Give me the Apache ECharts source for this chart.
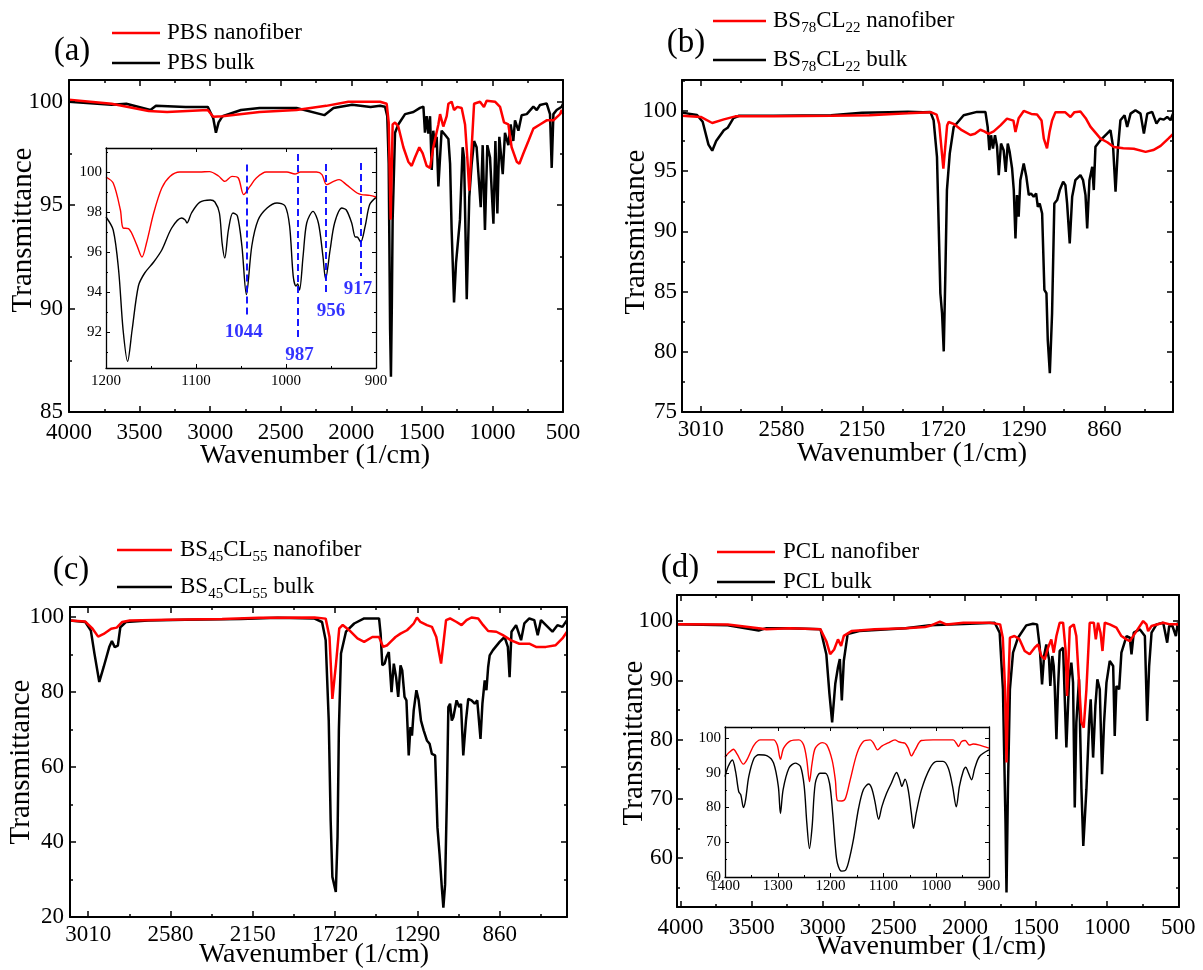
<!DOCTYPE html>
<html><head><meta charset="utf-8">
<script src="https://cdn.jsdelivr.net/npm/echarts@6/dist/echarts.min.js"></script>
<style>html,body{margin:0;padding:0;background:#fff}#c{width:1203px;height:970px}</style>
</head><body><div id="c"></div>
<script>
// ---------------- DATA ----------------
const namesA = ['PBS nanofiber', 'PBS bulk'];
const namesB = ['BS78CL22 nanofiber', 'BS78CL22 bulk'];
const namesC = ['BS45CL55 nanofiber', 'BS45CL55 bulk'];
const namesD = ['PCL nanofiber', 'PCL bulk'];
const panelLetters = ['(a)', '(b)', '(c)', '(d)'];
const xTitle = 'Wavenumber (1/cm)';
const yTitle = 'Transmittance';

// tick labels
const ticksA_x = [4000, 3500, 3000, 2500, 2000, 1500, 1000, 500];
const ticksA_y = [85, 90, 95, 100];
const ticksAI_x = [1200, 1100, 1000, 900];
const ticksAI_y = [92, 94, 96, 98, 100];
const ticksBC_x = [3010, 2580, 2150, 1720, 1290, 860];
const ticksB_y = [75, 80, 85, 90, 95, 100];
const ticksC_y = [20, 40, 60, 80, 100];
const ticksD_x = [4000, 3500, 3000, 2500, 2000, 1500, 1000, 500];
const ticksD_y = [60, 70, 80, 90, 100];
const ticksDI_x = [1400, 1300, 1200, 1100, 1000, 900];
const ticksDI_y = [60, 70, 80, 90, 100];

const peaksA = [1044, 987, 956, 917];

const pbsNanoMain = [[4000,100.1],[3698,99.9],[3436,99.55],[3305,99.5],[3017,99.6],[2978,99.27],[2912,99.3],[2650,99.5],[2388,99.6],[2178,99.8],[2021,100],[1863,100],[1796,100],[1749,99.9],[1735,99.0],[1721,94.3],[1707,98.9],[1690,99.0],[1667,98.8],[1631,97.8],[1596,97.1],[1572,96.9],[1549,97.3],[1518,97.8],[1494,97.5],[1466,96.9],[1442,96.8],[1419,97.8],[1383,98.9],[1371,99.4],[1348,98.8],[1324,99.3],[1312,99.9],[1289,100],[1272,99.6],[1249,99.75],[1218,99.7],[1194,98.9],[1178,97.3],[1164,95.7],[1147,97.8],[1130,99.9],[1088,100],[1060,99.75],[1041,100.05],[982,100],[946,99.75],[918,99.0],[887,98.9],[864,97.8],[828,97.1],[809,97.0],[781,97.5],[745,98.1],[710,98.7],[663,98.9],[616,99.1],[568,99.1],[521,99.4],[509,99.6],[500,99.4]];
const pbsBulkMain = [[4000,100],[3698,99.85],[3594,99.9],[3423,99.6],[3384,99.8],[3174,99.75],[3017,99.75],[2978,99.2],[2959,98.5],[2940,99.0],[2912,99.3],[2781,99.6],[2650,99.7],[2388,99.7],[2191,99.35],[2126,99.7],[1994,99.85],[1863,99.75],[1796,99.8],[1761,99.76],[1745,99.3],[1735,97],[1725,89],[1719,86.7],[1713,90],[1707,94.3],[1690,98.5],[1667,98.9],[1619,99.4],[1560,99.5],[1513,99.7],[1489,99.76],[1478,98.5],[1466,99.3],[1454,98.46],[1442,99.3],[1430,96.7],[1419,98.6],[1407,97.8],[1395,98.3],[1383,95.9],[1371,95.9],[1360,98.6],[1336,98.4],[1312,98.2],[1300,97.0],[1289,93.8],[1272,90.3],[1258,92.2],[1246,93.1],[1230,94.3],[1211,97.8],[1201,97.3],[1182,90.45],[1164,95.4],[1147,97.0],[1130,98.1],[1112,97.8],[1083,94.9],[1069,97.9],[1053,93.8],[1036,97.9],[1017,97.3],[993,94.1],[979,98.1],[965,94.6],[951,98.3],[927,96.5],[911,98.5],[887,97.9],[871,98.9],[852,98.1],[840,99.1],[816,98.6],[793,99.35],[757,99.4],[710,99.76],[686,99.6],[663,99.84],[616,99.92],[592,99.4],[580,96.8],[568,99.4],[545,99.6],[509,99.76],[500,99.9]];
const pbsNanoInset = [[1200,99.75],[1192,99.45],[1184,98.1],[1181,97.2],[1175,97.17],[1166,96.37],[1160,95.75],[1155,96.45],[1147,97.95],[1138,99.2],[1129,99.78],[1118,100],[1096,100],[1085,100.02],[1075,99.8],[1068,99.53],[1060,99.78],[1053,99.7],[1047,98.87],[1040,99.28],[1033,99.7],[1022,100],[999,100],[990,99.9],[984,100],[966,100],[960,99.87],[955,99.37],[947,99.53],[941,99.62],[933,99.37],[921,98.95],[916,98.87],[907,98.83],[900,98.75]];
const pbsBulkInset = [[1200,97.75],[1192,97.1],[1186,95.1],[1181,92.1],[1176,90.53],[1171,92.1],[1164,94.3],[1157,94.95],[1147,95.5],[1138,96.1],[1127,97.2],[1116,97.7],[1112,97.6],[1110,97.45],[1105,97.95],[1096,98.48],[1084,98.6],[1079,98.5],[1074,97.95],[1071,96.45],[1068,95.7],[1064,97.1],[1059,97.95],[1054,97.8],[1049,96.3],[1044,93.87],[1038,96.3],[1031,97.6],[1021,98.2],[1010,98.45],[1001,98.3],[996,97.3],[992,94.8],[989,94.3],[987,94.4],[985,94.1],[981,95.8],[977,97.45],[970,98.03],[964,97.45],[959,95.8],[956,94.65],[951,96.1],[946,97.45],[938,98.2],[933,98.1],[927,97.45],[923,96.75],[921,96.75],[917,96.5],[912,97.3],[907,98.37],[900,98.73]];

const bs78NanoMain = [[3110,99.6],[3010,99.5],[2949,99.0],[2887,99.3],[2826,99.55],[2622,99.55],[2316,99.6],[2112,99.65],[1907,99.8],[1785,99.9],[1754,99.7],[1740,98.9],[1730,97.2],[1718,95.2],[1708,97.0],[1698,98.8],[1690,99.08],[1660,98.9],[1620,98.4],[1574,98.0],[1550,98.1],[1521,98.44],[1500,98.3],[1477,98.1],[1450,98.3],[1414,98.8],[1379,99.36],[1345,99.2],[1334,98.25],[1317,99.4],[1290,100],[1250,99.75],[1219,99.7],[1195,99.2],[1183,97.7],[1166,96.9],[1152,98.3],[1139,99.2],[1121,99.9],[1070,99.9],[1041,99.5],[1020,99.9],[988,99.95],[960,99.4],[935,98.7],[881,97.7],[845,97.4],[810,97.0],[760,96.9],[704,96.86],[641,96.6],[600,96.75],[561,97.1],[520,97.7],[494,98.1]];
const bs78BulkMain = [[3110,99.86],[3030,99.67],[3000,99.1],[2969,97.2],[2949,96.7],[2928,97.5],[2887,98.4],[2867,98.6],[2857,98.5],[2836,99.4],[2806,99.6],[2622,99.6],[2316,99.65],[2152,99.85],[2010,99.9],[1907,99.94],[1826,99.9],[1787,99.92],[1770,99.23],[1752,96.19],[1734,84.86],[1725,83.2],[1716,80.03],[1708,85.97],[1699,93.43],[1684,96.46],[1663,98.67],[1610,99.64],[1539,99.92],[1494,99.92],[1482,98.67],[1473,96.74],[1464,97.98],[1454,96.88],[1443,97.98],[1432,97.02],[1423,94.67],[1411,97.29],[1397,96.74],[1386,94.94],[1375,97.29],[1365,96.6],[1352,95.22],[1343,93.43],[1334,89.42],[1326,93.01],[1317,91.22],[1308,94.25],[1290,95.64],[1276,94.53],[1263,93.01],[1251,93.15],[1237,92.87],[1224,93.15],[1215,92.04],[1205,92.32],[1192,91.49],[1180,85.14],[1169,84.86],[1162,80.99],[1151,78.23],[1139,83.2],[1127,92.32],[1112,92.6],[1098,93.43],[1080,94.12],[1068,93.84],[1059,92.32],[1045,89.0],[1032,92.87],[1015,94.25],[988,94.67],[974,94.25],[961,93.01],[952,90.25],[940,94.25],[925,95.36],[917,93.43],[908,97.02],[881,97.57],[846,98.12],[828,98.4],[814,97.02],[801,93.29],[789,96.74],[775,99.23],[753,99.64],[739,98.67],[721,99.78],[695,100.06],[668,99.78],[650,98.12],[632,99.78],[606,99.92],[583,98.95],[565,99.36],[544,99.28],[526,99.5],[508,99.23],[495,99.78]];

const bs45NanoMain = [[3105,99.1],[3025,98.8],[2987,96.9],[2958,94.8],[2929,95.5],[2890,96.9],[2861,97.2],[2832,98.7],[2793,99.1],[2600,99.3],[2310,99.5],[2117,99.8],[1827,99.9],[1769,99.6],[1749,94.7],[1734,78.2],[1715,87.6],[1698,97.0],[1680,97.9],[1646,96.5],[1603,94.3],[1568,93.4],[1525,94.7],[1490,94.7],[1469,92.06],[1447,92.5],[1430,93.4],[1404,94.7],[1378,95.6],[1344,96.5],[1326,97.4],[1309,98.3],[1292,99.9],[1274,98.7],[1240,97.86],[1214,97.4],[1191,94.7],[1179,91.2],[1166,87.6],[1154,92.9],[1140,99.2],[1119,99.64],[1085,98.7],[1059,97.86],[1033,99.2],[1007,99.9],[972,99.64],[946,97.86],[920,96.3],[877,96.1],[843,95.2],[800,93.8],[757,92.9],[705,92.9],[670,92.06],[618,92.06],[567,92.5],[532,94.3],[508,96.1]];
const bs45BulkMain = [[3105,99.1],[3025,98.7],[2996,96.4],[2977,90.2],[2952,82.7],[2929,86.7],[2900,92.0],[2886,93.6],[2871,92.0],[2855,92.4],[2842,97.3],[2813,98.7],[2697,99.1],[2503,99.3],[2213,99.5],[2020,99.8],[1827,99.6],[1788,98.7],[1769,93.8],[1753,72.4],[1743,45.8],[1734,30.7],[1724,31.1],[1716,26.7],[1707,41.3],[1700,70],[1689,90.3],[1663,96.1],[1620,98.3],[1568,99.64],[1490,99.64],[1482,95.6],[1473,87.15],[1461,87.6],[1451,89.4],[1439,90.7],[1425,80.0],[1413,87.6],[1401,84.0],[1390,78.7],[1378,87.15],[1369,85.8],[1357,78.7],[1347,77.8],[1335,63.1],[1326,70.7],[1318,68.4],[1309,75.1],[1295,80.5],[1283,77.8],[1271,72.4],[1257,69.8],[1240,67.1],[1226,66.2],[1214,63.5],[1197,63.1],[1185,43.9],[1174,36.8],[1162,27.8],[1154,22.5],[1145,28.7],[1136,51.0],[1128,76.0],[1119,76.9],[1110,72.4],[1102,73.3],[1085,77.8],[1071,76.0],[1062,76.9],[1050,63.1],[1036,72.4],[1024,78.2],[1007,77.8],[990,76.9],[977,77.8],[960,67.5],[950,76.9],[938,83.1],[929,80.5],[920,86.7],[912,89.8],[895,91.2],[860,93.4],[834,94.7],[817,92.06],[808,84.0],[798,96.1],[774,97.86],[748,93.84],[731,98.3],[705,99.64],[679,99.2],[661,95.2],[644,99.2],[618,97.86],[584,96.1],[558,97.86],[532,97.4],[508,99.2]];

const pclNanoMain = [[4025,99.44],[3668,99.4],[3451,98.8],[3396,98.6],[3233,98.8],[3016,98.6],[2975,96.6],[2948,94.4],[2920,95.2],[2893,96.9],[2871,95.8],[2852,97.5],[2798,98.3],[2635,98.6],[2417,98.8],[2281,99.0],[2246,99.2],[2176,99.9],[2129,99.4],[2011,99.72],[1823,99.72],[1753,99.44],[1734,97.19],[1718,88.47],[1708,76.1],[1696,88.47],[1684,97.19],[1652,97.47],[1616,96.9],[1580,94.94],[1545,94.38],[1510,95.5],[1486,96.06],[1463,94.1],[1439,93.53],[1416,95.5],[1393,96.9],[1376,94.66],[1357,97.47],[1334,99.72],[1310,99.72],[1292,94.94],[1282,87.35],[1263,98.9],[1235,99.44],[1217,97.47],[1198,89.6],[1181,82.85],[1165,82.0],[1146,88.47],[1123,99.72],[1094,99.72],[1080,96.9],[1064,99.72],[1047,98.03],[1033,94.94],[1017,99.72],[982,99.44],[935,98.9],[900,97.47],[864,96.9],[841,96.6],[794,98.3],[747,100.0],[724,99.44],[712,98.3],[688,99.16],[606,99.72],[559,99.44],[503,99.44],[495,99.3]];
const pclBulkMain = [[4025,99.44],[3668,99.3],[3451,98.4],[3396,98.8],[3233,98.8],[3016,98.6],[2975,94.4],[2953,87.7],[2934,82.9],[2912,89.4],[2893,92.2],[2880,93.6],[2866,86.6],[2852,93.3],[2825,97.8],[2744,98.3],[2417,98.8],[2246,99.3],[2011,99.5],[1791,99.72],[1756,98.03],[1733,88.47],[1715,65.97],[1708,54.16],[1698,71.6],[1684,88.47],[1662,94.66],[1627,97.19],[1569,99.27],[1522,99.55],[1493,99.44],[1475,95.78],[1458,89.31],[1444,94.1],[1428,96.06],[1409,93.53],[1400,89.03],[1386,94.1],[1376,92.4],[1369,89.03],[1357,80.03],[1346,88.47],[1334,94.94],[1310,95.5],[1287,78.63],[1268,90.16],[1252,92.97],[1240,89.6],[1228,68.5],[1217,82.85],[1198,90.16],[1181,71.6],[1168,62.03],[1146,71.6],[1127,82.85],[1116,86.78],[1099,76.94],[1083,85.66],[1069,90.16],[1052,88.47],[1036,74.13],[1022,82.85],[1005,89.6],[982,93.25],[958,92.4],[947,80.6],[935,89.03],[916,88.47],[900,94.66],[864,97.47],[841,97.19],[829,94.38],[813,98.03],[771,98.6],[735,97.47],[719,83.13],[705,92.4],[688,98.03],[653,99.44],[606,99.72],[578,96.34],[564,99.16],[541,99.16],[517,97.47],[503,99.72],[495,99.5]];
const pclNanoInset = [[1400,94.5],[1392,95.9],[1384,96.8],[1377,95.4],[1365,92.5],[1358,93.9],[1345,98.0],[1333,99.5],[1308,99.5],[1301,98.0],[1295,93.9],[1289,97.1],[1276,99.2],[1260,99.5],[1251,98.0],[1245,93.6],[1240,87.5],[1235,92.8],[1229,97.1],[1216,98.7],[1207,98.0],[1197,93.6],[1191,87.9],[1187,82.0],[1179,81.9],[1172,82.6],[1163,87.9],[1150,95.6],[1138,99.0],[1125,99.5],[1119,98.6],[1111,96.6],[1103,97.7],[1091,98.6],[1078,99.5],[1072,99.0],[1065,98.7],[1059,98.5],[1053,97.1],[1047,94.9],[1040,96.6],[1028,99.3],[1006,99.5],[968,99.5],[961,98.3],[958,97.6],[952,99.0],[945,99.3],[937,98.0],[930,98.3],[918,98.0],[900,97.1]];
const pclBulkInset = [[1400,88.9],[1394,91.8],[1386,93.7],[1380,90.4],[1374,84.6],[1370,83.6],[1365,80.0],[1361,82.2],[1355,88.9],[1345,94.2],[1336,95.2],[1320,94.9],[1308,92.8],[1299,86.1],[1295,78.3],[1290,85.1],[1279,91.3],[1267,92.8],[1257,91.8],[1250,86.1],[1245,75.5],[1240,68.2],[1235,74.5],[1229,87.0],[1220,89.9],[1210,89.9],[1202,87.0],[1196,78.3],[1191,68.7],[1187,63.9],[1179,61.7],[1172,61.9],[1166,64.3],[1157,70.6],[1147,79.8],[1138,85.1],[1128,86.8],[1122,85.5],[1116,81.7],[1109,76.6],[1103,80.2],[1094,84.1],[1085,87.0],[1075,90.1],[1069,88.0],[1065,86.1],[1059,88.2],[1053,85.1],[1047,78.3],[1043,74.0],[1038,78.3],[1028,85.1],[1012,91.3],[999,93.3],[987,93.3],[977,91.3],[969,86.1],[962,80.2],[956,86.1],[949,90.4],[944,91.6],[940,90.4],[933,88.0],[927,91.3],[918,94.7],[900,96.6]];

// ---------------- LAYOUT / STYLE ----------------
const FONT = '"Liberation Serif","Times New Roman",serif';
const RED = '#ff0000', BLACK = '#000000', BLUE = '#0000ff';

// ix/iy: major tick spacing, mix/miy: minor tick spacing (drawn by tick-overlay axes)
const panels = [
  {box:[69,80,563,412], x:[4000,500], y:[85,101.05], tx:ticksA_x, ty:ticksA_y, ix:500, mix:250, iy:5, miy:2.5, fs:23, xm:9, ym:6, bw:2, tl:6, ml:3, tw:1.5},
  {box:[106,148,376,368], x:[1200,900], y:[90.2,101.2], tx:ticksAI_x, ty:ticksAI_y, ix:100, mix:50, iy:2, miy:1, fs:15, xm:6, ym:4, bw:1.3, tl:4, ml:2, tw:1},
  {box:[682,80,1173,412], x:[3110,495], y:[75,102.57], tx:ticksBC_x, ty:ticksB_y, ix:430, mix:215, iy:5, miy:2.5, fs:23, xm:6, ym:5, bw:2, tl:6, ml:3, tw:1.5},
  {box:[70,607,567,917], x:[3105,508], y:[20,102.7], tx:ticksBC_x, ty:ticksC_y, ix:430, mix:215, iy:20, miy:10, fs:23, xm:6, ym:6, bw:2, tl:6, ml:3, tw:1.5},
  {box:[677,595,1179,907], x:[4025,495], y:[51.7,104.4], tx:ticksD_x, ty:ticksD_y, ix:500, mix:250, iy:10, miy:5, fs:23, xm:9, ym:4, bw:2, tl:6, ml:3, tw:1.5},
  {box:[725,727,989,877], x:[1400,900], y:[60,103.2], tx:ticksDI_x, ty:ticksDI_y, ix:100, mix:50, iy:10, miy:5, fs:15, xm:2, ym:4, bw:1.3, tl:4, ml:2, tw:1}
];

const grids = [], xAxes = [], yAxes = [], series = [];
const axisIdx = [];

panels.forEach((p) => {
  const [L, T, R, B] = p.box, W = R - L, H = B - T;
  const gi = grids.length;
  grids.push({left:L, top:T, width:W, height:H, show:false, containLabel:false});
  const mk = (isX, pos, labelVals) => ({
    type:'value', gridIndex:gi, position:pos, z:6,
    min: isX ? p.x[1] : p.y[0], max: isX ? p.x[0] : p.y[1], inverse: isX,
    axisLine:{show:true, onZero:false, lineStyle:{color:'#000', width:p.bw}}, splitLine:{show:false},
    axisTick:{show:false},
    axisLabel: labelVals ? {show:true, customValues:labelVals, margin: isX ? p.xm : p.ym, color:'#000',
      fontFamily:FONT, fontSize:p.fs, formatter:(v)=>String(v)} : {show:false},
    silent:true
  });
  const xi = xAxes.length, yi = yAxes.length;
  xAxes.push(mk(true,'bottom',p.tx), mk(true,'top',null));
  yAxes.push(mk(false,'left',p.ty), mk(false,'right',null));
  axisIdx.push([xi, yi]);

  // tick overlays: axes whose min sits on a multiple of the interval, laid over the same pixel scale
  const tickAxis = (isX, pos, g, lo, hi, interval, len) => ({
    type:'value', gridIndex:g, position:pos, z:7, min:lo, max:hi, interval, inverse:isX,
    axisLine:{show:false, onZero:false}, splitLine:{show:false}, axisLabel:{show:false},
    axisTick:{show:true, inside:true, length:len, lineStyle:{color:'#000', width:p.tw}}, silent:true
  });
  const dummy = (g) => ({type:'value', gridIndex:g, show:false, min:0, max:1});
  [[p.ix, p.tl], [p.mix, p.ml]].forEach(([iv, len]) => {
    const hi = p.x[0], lo = p.x[1];
    const lo2 = Math.ceil(lo / iv - 1e-9) * iv;
    const g = grids.length;
    grids.push({left:L, top:T, width:(hi - lo2) / (hi - lo) * W, height:H, show:false});
    xAxes.push(tickAxis(true, 'bottom', g, lo2, hi, iv, len), tickAxis(true, 'top', g, lo2, hi, iv, len));
    yAxes.push(dummy(g));
  });
  [[p.iy, p.tl], [p.miy, p.ml]].forEach(([iv, len]) => {
    const lo = p.y[0], hi = p.y[1];
    const lo2 = Math.ceil(lo / iv - 1e-9) * iv;
    const g = grids.length;
    grids.push({left:L, top:T, width:W, height:(hi - lo2) / (hi - lo) * H, show:false});
    yAxes.push(tickAxis(false, 'left', g, lo2, hi, iv, len), tickAxis(false, 'right', g, lo2, hi, iv, len));
    xAxes.push(dummy(g));
  });
});

function addLine(pi, name, data, color, width, smooth) {
  series.push({type:'line', name, xAxisIndex:axisIdx[pi][0], yAxisIndex:axisIdx[pi][1], data,
    showSymbol:false, symbol:'none', smooth: smooth || false, lineStyle:{color, width}, itemStyle:{color},
    animation:false, silent:true, z:3});
}
addLine(0, namesA[1], pbsBulkMain, BLACK, 2.5);
addLine(0, namesA[0], pbsNanoMain, RED, 2.5);
addLine(1, namesA[1]+' (inset)', pbsBulkInset, BLACK, 1.4, 0.3);
addLine(1, namesA[0]+' (inset)', pbsNanoInset, RED, 1.4, 0.3);
addLine(2, namesB[1], bs78BulkMain, BLACK, 2.5);
addLine(2, namesB[0], bs78NanoMain, RED, 2.5);
addLine(3, namesC[1], bs45BulkMain, BLACK, 2.5);
addLine(3, namesC[0], bs45NanoMain, RED, 2.5);
addLine(4, namesD[1], pclBulkMain, BLACK, 2.5);
addLine(4, namesD[0], pclNanoMain, RED, 2.5);
addLine(5, namesD[1]+' (inset)', pclBulkInset, BLACK, 1.4, 0.3);
addLine(5, namesD[0]+' (inset)', pclNanoInset, RED, 1.4, 0.3);

// peak annotations in inset (a): dashed line extents and label anchor (data coords)
const peakLineSpan = [[100.37,92.8],[100.9,91.7],[100.4,93.8],[100.45,94.8]];
const peakLabelAt = [[1047,92.0],[985,90.87],[950,93.05],[920,94.15]];
series.push({type:'scatter', xAxisIndex:axisIdx[1][0], yAxisIndex:axisIdx[1][1], symbolSize:0, animation:false, silent:true, z:4,
  data: peaksA.map((pk,i)=>({value:peakLabelAt[i], name:String(pk)})),
  label:{show:true, position:'inside', formatter:(d)=>d.name, color:BLUE, fontFamily:FONT, fontWeight:'bold', fontSize:19},
  markLine:{silent:true, animation:false, symbol:['none','none'], label:{show:false},
    lineStyle:{color:BLUE, width:1.8, type:[7,4]},
    data: peaksA.map((pk,i)=>[{coord:[pk, peakLineSpan[i][0]]},{coord:[pk, peakLineSpan[i][1]]}])}
});

// graphic texts: legends, panel letters, axis titles
const sub = (s) => s.replace(/BS(\d+)CL(\d+)/, 'BS{s|$1}CL{s|$2}');
const rich = {s:{fontFamily:FONT, fontSize:15, padding:[14,0,0,0]}};
const legends = [
  {names:namesA, x1:112, x2:160, tx:167, ys:[33,63]},
  {names:namesB, x1:713, x2:766, tx:773, ys:[21,60]},
  {names:namesC, x1:117, x2:172, tx:180, ys:[550,587]},
  {names:namesD, x1:717, x2:775, tx:783, ys:[552,582]}
];
const letterPos = [[72,51],[686,43],[71,570],[680,568]];
const xTitlePos = [[315,456],[912,454],[314,955],[931,947]];
const yTitlePos = [[23,230],[636,232],[21,762],[634,743]];
const graphic = [];
legends.forEach((Lg) => {
  [RED, BLACK].forEach((c, k) => {
    graphic.push({type:'line', shape:{x1:Lg.x1, y1:Lg.ys[k], x2:Lg.x2, y2:Lg.ys[k]}, style:{stroke:c, lineWidth:2.5}, silent:true});
    graphic.push({type:'text', x:Lg.tx, y:Lg.ys[k], silent:true, style:{text:sub(Lg.names[k]), fontFamily:FONT, fontSize:23, fill:'#000', align:'left', verticalAlign:'middle', rich}});
  });
});
panelLetters.forEach((t, i) => graphic.push({type:'text', x:letterPos[i][0], y:letterPos[i][1], silent:true,
  style:{text:t, fontFamily:FONT, fontSize:33, fill:'#000', align:'center', verticalAlign:'middle'}}));
xTitlePos.forEach((q) => graphic.push({type:'text', x:q[0], y:q[1], silent:true,
  style:{text:xTitle, fontFamily:FONT, fontSize:28, fill:'#000', align:'center', verticalAlign:'middle'}}));
yTitlePos.forEach((q) => graphic.push({type:'text', x:q[0], y:q[1], rotation:Math.PI/2, silent:true,
  style:{text:yTitle, fontFamily:FONT, fontSize:29, fill:'#000', align:'center', verticalAlign:'middle'}}));

const chart = echarts.init(document.getElementById('c'), null, {renderer:'canvas'});
chart.setOption({
  animation:false, backgroundColor:'#fff',
  grid:grids, xAxis:xAxes, yAxis:yAxes, series, graphic
});
</script></body></html>
